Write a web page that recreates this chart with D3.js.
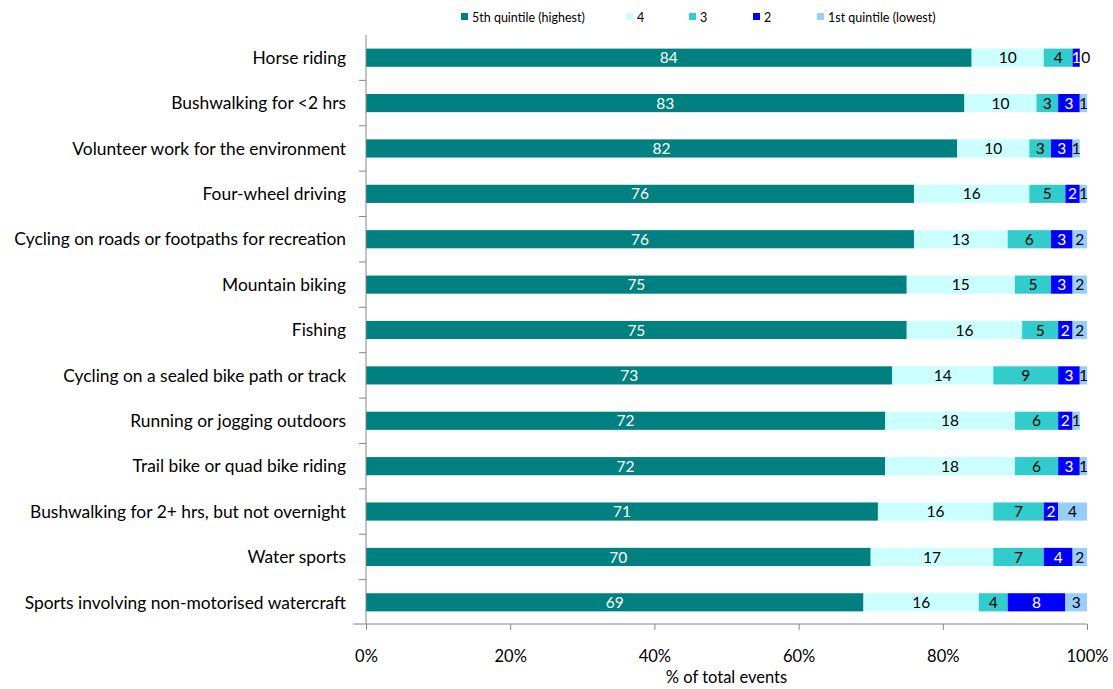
<!DOCTYPE html>
<html>
<head>
<meta charset="utf-8">
<script src="https://cdn.jsdelivr.net/npm/d3@7"></script>
<style>
  body { margin: 0; background: #fff; }
  svg { display: block; font-family: Lato, "Open Sans", sans-serif; }
</style>
</head>
<body>
<svg id="chart" width="1113" height="689"></svg>
<script>
// Activities, top to bottom
const activities = [
  "Horse riding",
  "Bushwalking for <2 hrs",
  "Volunteer work for the environment",
  "Four-wheel driving",
  "Cycling on roads or footpaths for recreation",
  "Mountain biking",
  "Fishing",
  "Cycling on a sealed bike path or track",
  "Running or jogging outdoors",
  "Trail bike or quad bike riding",
  "Bushwalking for 2+ hrs, but not overnight",
  "Water sports",
  "Sports involving non-motorised watercraft"
];

// Share of total events (%) by income quintile
const q5 = [84, 83, 82, 76, 76, 75, 75, 73, 72, 72, 71, 70, 69];
const q4 = [10, 10, 10, 16, 13, 15, 16, 14, 18, 18, 16, 17, 16];
const q3 = [4, 3, 3, 5, 6, 5, 5, 9, 6, 6, 7, 7, 4];
const q2 = [1, 3, 3, 2, 3, 3, 2, 3, 2, 3, 2, 4, 8];
const q1 = [0, 1, 1, 1, 2, 2, 2, 1, 1, 1, 4, 2, 3];

const seriesNames = ["5th quintile (highest)", "4", "3", "2", "1st quintile (lowest)"];
const seriesValues = [q5, q4, q3, q2, q1];
const seriesColors = ["#008080", "#CCFFFF", "#33CCCC", "#0000FF", "#99CCFF"];
const labelColors = ["#ffffff", "#000000", "#000000", "#ffffff", "#000000"];

const xTicks = [0, 20, 40, 60, 80, 100];

const svg = d3.select("#chart");
const plotLeft = 366, plotRight = 1087, plotTop = 35, plotBottom = 625;

const x = d3.scaleLinear().domain([0, 100]).range([plotLeft, plotRight]);
const y = d3.scaleBand().domain(activities).range([plotTop, plotBottom]).paddingInner(0.6).paddingOuter(0.3);

// Build stacked segments
const rows = activities.map((a, i) => {
  const row = { activity: a };
  seriesNames.forEach((s, k) => { row[s] = seriesValues[k][i]; });
  return row;
});
const stack = d3.stack().keys(seriesNames)(rows);

const gBars = svg.append("g");
stack.forEach((layer, k) => {
  const g = gBars.append("g").attr("fill", seriesColors[k]);
  g.selectAll("rect").data(layer).join("rect")
    .attr("x", d => x(d[0]))
    .attr("width", d => x(d[1]) - x(d[0]))
    .attr("y", d => y(d.data.activity))
    .attr("height", y.bandwidth());
});

// Value labels centred in each segment (an empty segment's label sits just past the bar end)
stack.forEach((layer, k) => {
  svg.append("g").selectAll("text").data(layer).join("text")
    .attr("x", d => x((d[0] + d[1]) / 2) + (d[1] - d[0] === 0 ? 6 : 0))
    .attr("y", d => y(d.data.activity) + y.bandwidth() / 2)
    .attr("dy", "0.36em")
    .attr("text-anchor", "middle")
    .attr("font-size", 15.5)
    .attr("fill", labelColors[k])
    .text(d => d[1] - d[0]);
});

// Category axis
const axisColor = "#868686";
svg.append("line").attr("x1", plotLeft).attr("x2", plotLeft).attr("y1", plotTop).attr("y2", plotBottom - 1)
  .attr("stroke", axisColor);
const boundaries = activities.slice(1).map(a => y(a) - y.step() * y.paddingInner() / 2);
svg.append("g").selectAll("line").data(boundaries).join("line")
  .attr("x1", plotLeft - 7).attr("x2", plotLeft).attr("y1", d => d).attr("y2", d => d)
  .attr("stroke", axisColor);
svg.append("g").selectAll("text").data(activities).join("text")
  .attr("x", 346)
  .attr("y", d => y(d) + y.bandwidth() / 2)
  .attr("dy", "0.36em")
  .attr("text-anchor", "end")
  .attr("font-size", 17.4)
  .attr("fill", "#000")
  .text(d => d);

// Value axis
const xAxisY = 624;
const xAxis = svg.append("g").attr("transform", `translate(0,${xAxisY})`)
  .call(d3.axisBottom(x).tickValues(xTicks).tickFormat(d => d + "%").tickSize(6).tickPadding(20));
xAxis.select(".domain").remove();
xAxis.append("line").attr("x1", 353).attr("x2", plotRight).attr("stroke", axisColor);
xAxis.selectAll(".tick line").attr("stroke", axisColor);
xAxis.selectAll(".tick text").attr("font-size", 16.5).attr("fill", "#000")
  .attr("font-family", "Lato, 'Open Sans', sans-serif");

svg.append("text").attr("x", x(50)).attr("y", 683)
  .attr("text-anchor", "middle").attr("font-size", 16.5).attr("fill", "#000")
  .text("% of total events");

// Legend
const legendX = [461, 626, 689, 753, 817];
const lg = svg.append("g");
seriesNames.forEach((s, k) => {
  lg.append("rect").attr("x", legendX[k]).attr("y", 13).attr("width", 7).attr("height", 7)
    .attr("fill", seriesColors[k]);
  lg.append("text").attr("x", legendX[k] + 11).attr("y", 17).attr("dy", "0.36em")
    .attr("font-size", 12.5).attr("fill", "#000").text(s);
});
</script>
</body>
</html>
